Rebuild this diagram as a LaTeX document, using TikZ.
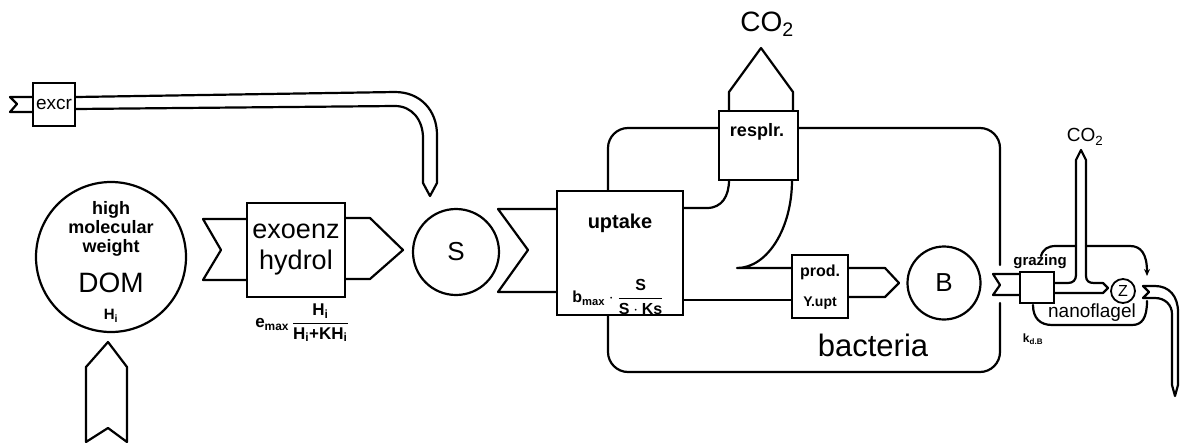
\documentclass[tikz,border=0pt]{standalone}
\usepackage{fontspec}
\setmainfont{Liberation Sans}
\usepackage{amsmath}
\usetikzlibrary{arrows.meta}
\newcommand{\myfs}[2]{\fontsize{#1}{#2}\selectfont}
\begin{document}
\begin{tikzpicture}[x=1pt,y=-1pt,
  ln/.style={line width=2.2pt, line join=round, line cap=round},
  box/.style={draw, line width=2.2pt, inner sep=0pt},
  pool/.style={draw, circle, line width=2.2pt, inner sep=0pt},
  lbl/.style={inner sep=0pt, align=center}]
\useasboundingbox (0,0) rectangle (1180,442);

% ---------- DOM pool ----------
\node[pool, minimum size=150] (dom) at (111,257) {};
\node[lbl, font=\myfs{18}{19}\bfseries] (domtxt) at (111,229) {high\\molecular\\weight};
\node[lbl, font=\myfs{28}{30}] (domlbl) at (111,283) {DOM};
\node[lbl, font=\myfs{15}{17}\bfseries] (domh) at (111,316) {H\textsubscript{i}};
% input arrow from below
\draw[ln] (86,442) -- (86,367) -- (108,342) -- (127,367) -- (127,442) -- (108,428) -- cycle;

% ---------- exoenzymatic hydrolysis ----------
\node[box, minimum width=98, minimum height=94, font=\myfs{27}{31}, align=center] (exo) at (296,250) {exoenz\\hydrol};
\draw[ln] (exo.west |- 0,219) -- (203,219) -- (221,250) -- (203,280) -- (exo.west |- 0,280);
\draw[ln] (exo.east |- 0,218) -- (370,218) -- (403,250) -- (370,279) -- (exo.east |- 0,279);
\node[lbl, font=\myfs{17}{19}\bfseries] (exof) at (302,323)
  {$\text{e}_{\text{max}}\,\dfrac{\text{H}_{\text{i}}}{\text{H}_{\text{i}}\text{+K}\text{H}_{\text{i}}}$};

% ---------- S pool ----------
\node[pool, minimum size=86, font=\myfs{26}{28}] (S) at (456,252) {S};

% ---------- excretion ----------
\node[box, minimum width=42, minimum height=43, font=\myfs{19}{21}] (excr) at (54,104.5) {excr};
\draw[ln] (excr.west |- 0,97) -- (10,97) -- (17,104) -- (10,112) -- (excr.west |- 0,112);
\draw[ln] (excr.east |- 0,97) -- (395,92) .. controls (420,92) and (437,110) .. (437,135)
  -- (437,183) -- (430,196) -- (423,183) -- (423,138)
  .. controls (423,120) and (412,106) .. (395,106) -- (excr.east |- 0,109);

% ---------- uptake ----------
\node[box, minimum width=126, minimum height=124] (upt) at (620,253) {};
\draw[ln] (upt.west |- 0,209) -- (498,209) -- (528,250) -- (498,292) -- (upt.west |- 0,292);
\node[lbl, font=\myfs{20}{22}\bfseries] (upttxt) at (620,223) {uptake};
\node[lbl, font=\myfs{16}{18}\bfseries] (uptf) at (618,297)
  {$\text{b}_{\text{max}}\cdot\dfrac{\text{S}}{\text{S}\cdot\text{Ks}}$};

% ---------- respiration ----------
\node[box, minimum width=79, minimum height=69] (resp) at (758.5,145.5) {};
\node[lbl, font=\myfs{18}{20}\bfseries] (resptxt) at (757,132) {resplr.};
\draw[ln] (729,111) -- (729,92) -- (761,48) -- (793,92) -- (793,111);
\node[lbl, font=\myfs{28}{30}] (co2a) at (767,24) {CO\textsubscript{2}};

% ---------- production ----------
\node[box, minimum width=56, minimum height=63] (prod) at (820,286.5) {};
\node[lbl, font=\myfs{16}{18}\bfseries] (prodtxt) at (820,272) {prod.};
\node[lbl, font=\myfs{14}{16}\bfseries] (prody) at (820,303) {Y.upt};

% pipe uptake -> respiration / production
\draw[ln] (upt.east |- 0,208) -- (707,208) .. controls (722,208) and (729,196) .. (729,180);
\draw[ln] (792,180) .. controls (792,229) and (767,268) .. (737,268) -- (prod.west |- 0,268);
\draw[ln] (upt.east |- 0,300) -- (prod.west |- 0,300);

% ---------- B pool ----------
\node[pool, minimum size=73, font=\myfs{26}{28}] (B) at (944,283) {B};
\draw[ln] (prod.east |- 0,268) -- (885,268) -- (899,283) -- (885,297) -- (prod.east |- 0,297);

% ---------- bacteria compartment ----------
\draw[ln] (upt.north -| 608,0) -- (608,148) .. controls (608,137) and (617,128) .. (628,128) -- (resp.west |- 0,128);
\draw[ln] (resp.east |- 0,128) -- (980,128) .. controls (991,128) and (1000,137) .. (1000,148) -- (1000,265);
\draw[ln] (1000,303) -- (1000,352) .. controls (1000,363) and (991,372) .. (980,372) -- (628,372)
  .. controls (617,372) and (608,363) .. (608,352) -- (upt.south -| 608,0);
\node[lbl, font=\myfs{31}{33}] (bact) at (873,345) {bacteria};

% ---------- grazing ----------
\node[box, minimum width=34, minimum height=31] (graz) at (1037,287.5) {};
\draw[ln] (graz.west |- 0,274) -- (993,274) -- (1000,285) -- (993,295) -- (graz.west |- 0,295);
\node[lbl, font=\myfs{15}{17}\bfseries] (graztxt) at (1040,262) {grazing};
\node[lbl, font=\myfs{12}{14}\bfseries] (kdb) at (1033,339) {$\text{k}_{\text{d.B}}$};
\draw[ln] (graz.east |- 0,283) -- (1068,283) .. controls (1073,283) and (1076,280) .. (1076,275)
  -- (1076,160) -- (1081,150) -- (1086,160) -- (1086,276)
  .. controls (1086,281) and (1089,283) .. (1094,283) -- (1103,283) -- (1108,288) -- (1103,293)
  -- (graz.east |- 0,293);
\node[lbl, font=\myfs{19}{21}] (co2b) at (1085,137) {CO\textsubscript{2}};

% ---------- nanoflagellates ----------
\node[pool, minimum size=24, line width=1.8pt, font=\myfs{16}{18}] (Z) at (1123,291) {Z};
\draw[ln] (1041,256) .. controls (1043,249) and (1048,246) .. (1056,246) -- (1076,246);
\draw[ln, -{Stealth[length=7pt,width=6pt]}] (1086,246) -- (1130,246) .. controls (1141,246) and (1147,254) .. (1147,276);
\draw[ln] (1033,305) .. controls (1033,318) and (1040,325) .. (1052,325) -- (1132,325)
  .. controls (1142,325) and (1147,318) .. (1147,301);
\node[lbl, font=\myfs{19}{21}] (nano) at (1092,313) {nanoflagel};
\draw[ln] (1143,286) -- (1155,286) .. controls (1169,286) and (1178,296) .. (1178,312)
  -- (1178,385) -- (1175,396) -- (1172,385) -- (1172,314)
  .. controls (1172,305) and (1165,298) .. (1155,298) -- (1143,298) -- (1149,292) -- cycle;
\end{tikzpicture}
\end{document}
